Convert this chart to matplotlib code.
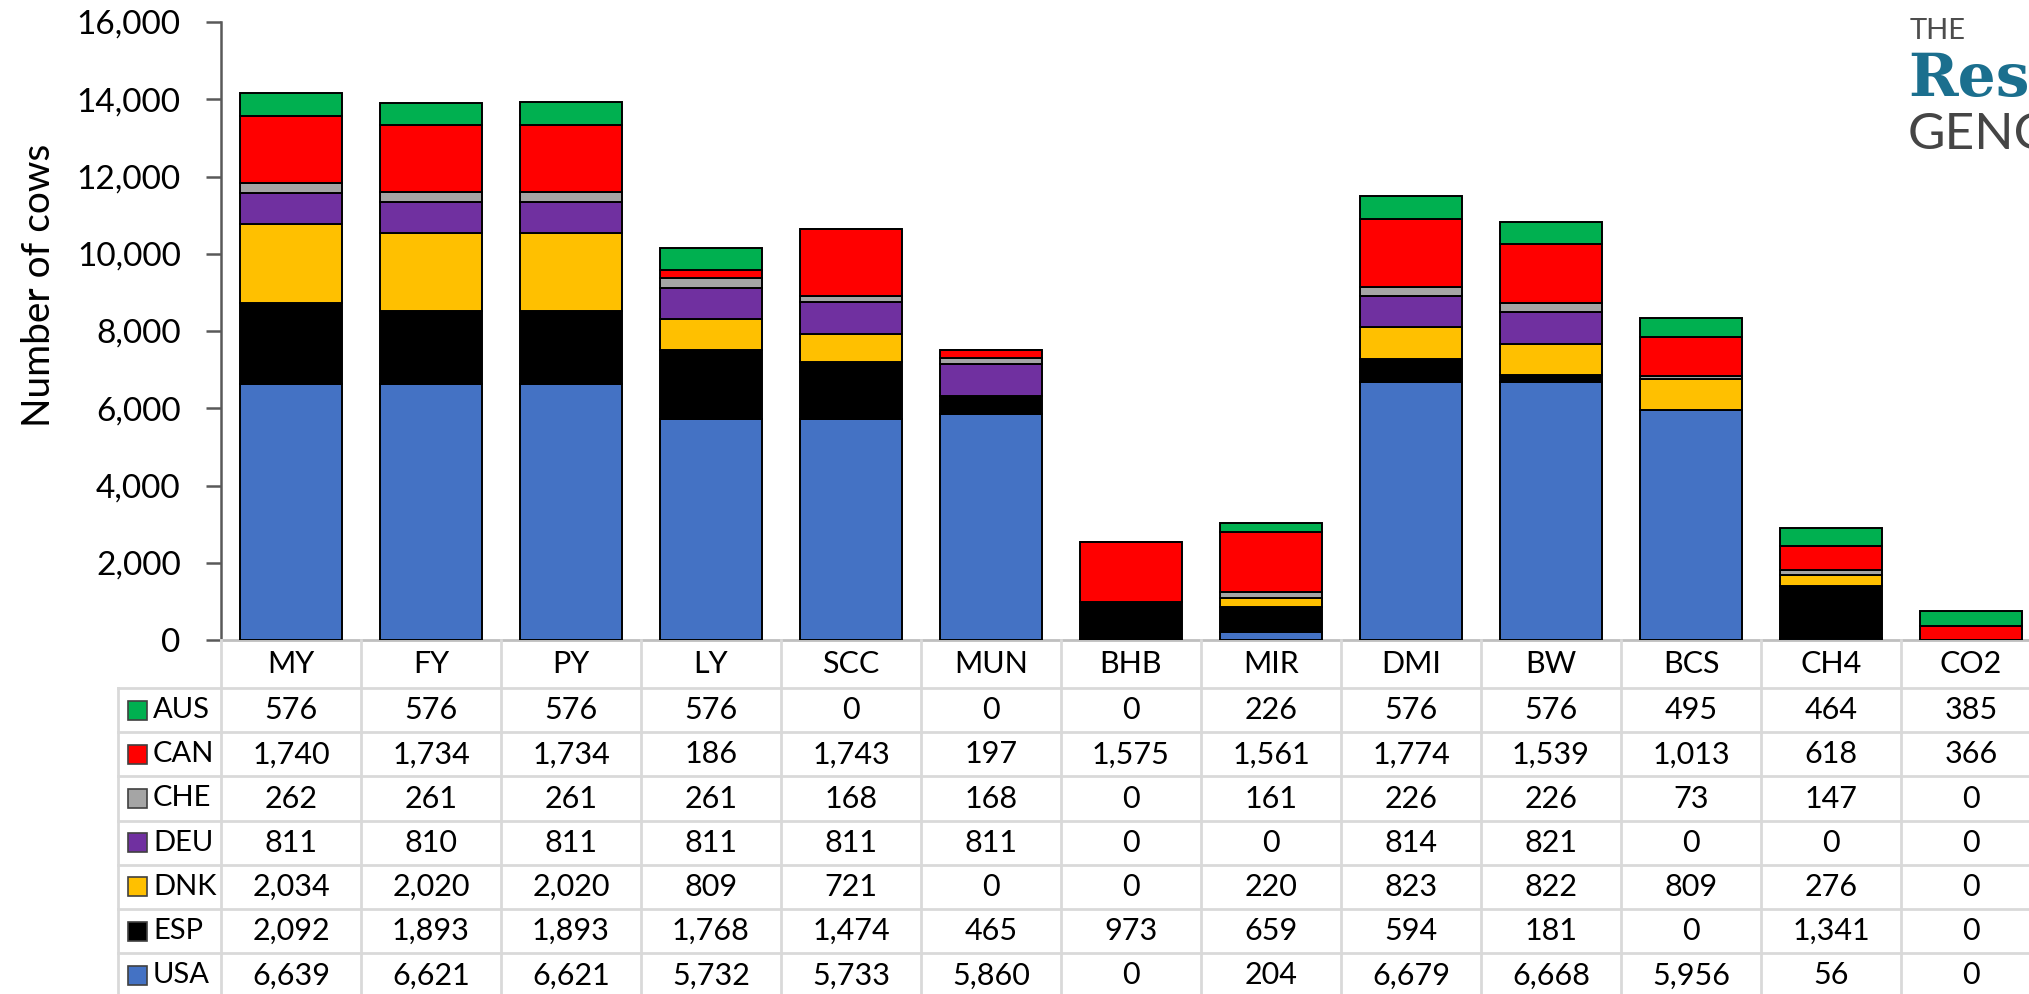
import numpy as np
import matplotlib
matplotlib.use("Agg")
import matplotlib.pyplot as plt
from matplotlib.patches import Rectangle
from matplotlib.transforms import blended_transform_factory

# Traits (columns) and countries (stack order, bottom to top)
traits = ["MY", "FY", "PY", "LY", "SCC", "MUN", "BHB", "MIR", "DMI", "BW", "BCS", "CH4", "CO2"]
usa = [6639, 6621, 6621, 5732, 5733, 5860, 0, 204, 6679, 6668, 5956, 56, 0]
esp = [2092, 1893, 1893, 1768, 1474, 465, 973, 659, 594, 181, 0, 1341, 0]
dnk = [2034, 2020, 2020, 809, 721, 0, 0, 220, 823, 822, 809, 276, 0]
deu = [811, 810, 811, 811, 811, 811, 0, 0, 814, 821, 0, 0, 0]
che = [262, 261, 261, 261, 168, 168, 0, 161, 226, 226, 73, 147, 0]
can = [1740, 1734, 1734, 186, 1743, 197, 1575, 1561, 1774, 1539, 1013, 618, 366]
aus = [576, 576, 576, 576, 0, 0, 0, 226, 576, 576, 495, 464, 385]

countries = ["USA", "ESP", "DNK", "DEU", "CHE", "CAN", "AUS"]
series = [usa, esp, dnk, deu, che, can, aus]
colors = ["#4472C4", "#000000", "#FFC000", "#7030A0", "#A5A5A5", "#FF0000", "#00B050"]

yticks = [0, 2000, 4000, 6000, 8000, 10000, 12000, 14000, 16000]

plt.rcParams["font.family"] = ["Lato", "DejaVu Sans"]

W, H = 2029, 994
fig = plt.figure(figsize=(W / 100, H / 100), dpi=100)

# plot area in pixels (Excel-like layout, table runs off the right edge)
px_left, px_top, px_zero = 221, 22, 640
col_w = 140
n = len(traits)
ax = fig.add_axes([px_left / W, 1 - px_zero / H, n * col_w / W, (px_zero - px_top) / H])

x = np.arange(n)
bottom = np.zeros(n)
for vals, c in zip(series, colors):
    ax.bar(x, vals, bottom=bottom, width=0.73, color=c, edgecolor="#000000", linewidth=1.4, zorder=3)
    bottom += np.array(vals)

ax.set_xlim(-0.5, n - 0.5)
ax.set_ylim(0, 16000)
ax.set_yticks(yticks)
ax.set_yticklabels([f"{v:,}" for v in yticks], fontsize=24)
ax.tick_params(axis="y", length=11, width=1.8, color="#595959", pad=18, labelcolor="#000000")
ax.set_xticks([])
for s in ["top", "right"]:
    ax.spines[s].set_visible(False)
ax.spines["left"].set_color("#595959")
ax.spines["left"].set_linewidth(1.8)
ax.spines["bottom"].set_color("#bfbfbf")
ax.spines["bottom"].set_linewidth(2)

fig.text(39 / W, 1 - 285 / H, "Number of cows", rotation=90, fontsize=28,
         ha="center", va="center", color="#000000")

# data table under the chart
tr = blended_transform_factory(ax.transData, fig.transFigure)
fy = lambda py: 1 - py / H
fx = lambda px: px / W
grid_c = "#d9d9d9"
row_top = 688
row_h = 44.2
n_rows = len(countries)
bottom_px = row_top + n_rows * row_h
fs_tab = 22

for i, t in enumerate(traits):
    fig.text(i, fy((px_zero + row_top) / 2), t, transform=tr, ha="center", va="center", fontsize=fs_tab)

# vertical grid lines
for i in range(n + 1):
    fig.add_artist(plt.Line2D([i - 0.5, i - 0.5], [fy(px_zero), fy(bottom_px)], transform=tr,
                              color=grid_c, linewidth=2))
fig.add_artist(plt.Line2D([fx(118), fx(118)], [fy(row_top), fy(bottom_px)], color=grid_c, linewidth=2))

# horizontal grid lines
for r in range(n_rows + 1):
    yy = fy(row_top + r * row_h)
    fig.add_artist(plt.Line2D([fx(118), fx(px_left)], [yy, yy], color=grid_c, linewidth=2))
    fig.add_artist(plt.Line2D([-0.5, n - 0.5], [yy, yy], transform=tr, color=grid_c, linewidth=2))

# rows: top to bottom AUS ... USA
for r, k in enumerate(range(n_rows - 1, -1, -1)):
    yc = fy(row_top + (r + 0.5) * row_h)
    fig.add_artist(Rectangle((fx(128), yc - 9.5 / H), 19 / W, 19 / H, facecolor=colors[k],
                             edgecolor="#404040", linewidth=1.2))
    fig.text(fx(153), yc, countries[k], ha="left", va="center", fontsize=21)
    for i, v in enumerate(series[k]):
        fig.text(i, yc, f"{v:,}", transform=tr, ha="center", va="center", fontsize=fs_tab)

# logo (cropped at the right edge, as in the source image)
fig.text(fx(1910), fy(31), "THE", fontsize=21, color="#4d4d4d", ha="left", va="center")
fig.text(fx(1908), fy(79), "Resilient", fontsize=43, color="#1B6F8E", fontweight="bold",
         family="DejaVu Serif", ha="left", va="center")
fig.text(fx(1908), fy(135), "GENOME", fontsize=37, color="#454545", ha="left", va="center")

fig.savefig("out.png", dpi=100)
